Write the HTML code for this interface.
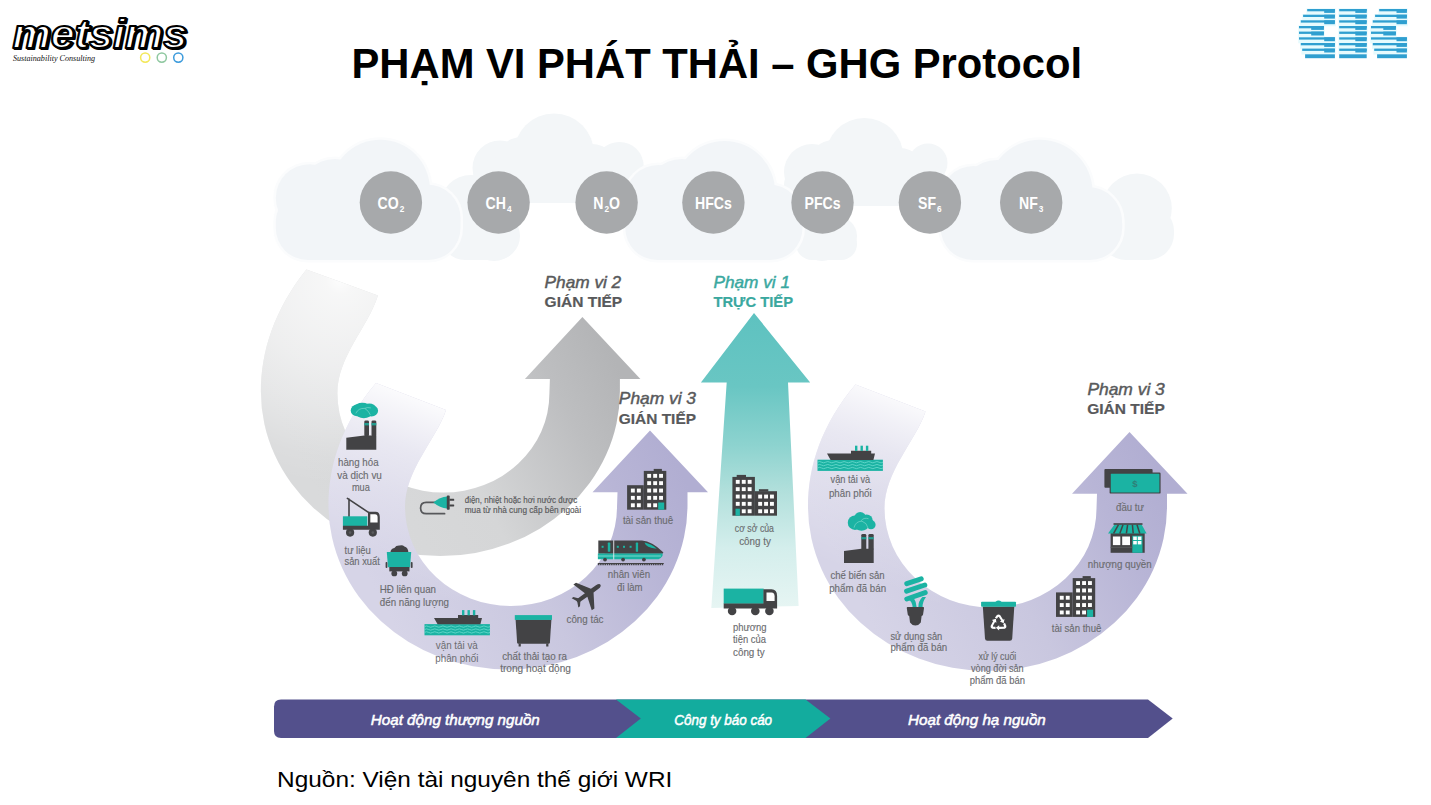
<!DOCTYPE html>
<html><head><meta charset="utf-8"><title>GHG Protocol</title>
<style>
html,body{margin:0;padding:0;background:#fff;}
body{width:1431px;height:805px;overflow:hidden;position:relative;font-family:"Liberation Sans",sans-serif;}
svg{position:absolute;left:0;top:0;}
svg text{font-family:"Liberation Sans",sans-serif;}
</style></head><body>
<svg width="1431" height="805" viewBox="0 0 1431 805">
<defs>
  <path id="arc" d="M687.5 492.3 L708 492.3 L650 430.5 L592.5 492.3 L617.5 492.3 L617 507 A106 99 0 0 1 511 606 A106 99 0 0 1 405 507 C405 470 436 440 446 410 L376 383 C342 423 328.5 465 328.5 505 A179.5 164.5 0 0 0 508 669.5 A179.5 164.5 0 0 0 687.5 505 Z"/>
  <path id="arcg" d="M687.5 492.3 L708 492.3 L650 430.5 L592.5 492.3 L617.5 492.3 L617 507 A106 99 0 0 1 511 606 A106 99 0 0 1 405 507 C405 470 436 440 445.5 409 L374 383 C342 423 328.5 465 328.5 505 A179.5 164.5 0 0 0 508 669.5 A179.5 164.5 0 0 0 687.5 505 Z"/>
  <clipPath id="clipL"><rect x="300" y="370" width="160.6" height="320"/></clipPath>
  <clipPath id="clipG"><rect x="300" y="370" width="270" height="320"/></clipPath>
  <clipPath id="clipR"><rect x="460" y="370" width="260" height="320"/></clipPath>
  <linearGradient id="gPurBody" gradientUnits="userSpaceOnUse" x1="380" y1="600" x2="670" y2="450">
    <stop offset="0" stop-color="#d6d4e7"/><stop offset="0.45" stop-color="#c9c7df"/><stop offset="0.8" stop-color="#b8b5d6"/><stop offset="1" stop-color="#b1aed2"/>
  </linearGradient>
  <linearGradient id="gGrayBody" gradientUnits="userSpaceOnUse" x1="380" y1="600" x2="670" y2="450">
    <stop offset="0" stop-color="#d9dadb"/><stop offset="0.45" stop-color="#d5d6d7"/><stop offset="0.8" stop-color="#bdbec0"/><stop offset="1" stop-color="#b3b4b6"/>
  </linearGradient>
  <linearGradient id="gFade" gradientUnits="userSpaceOnUse" x1="410" y1="395" x2="345" y2="560">
    <stop offset="0" stop-color="#fff" stop-opacity="0.93"/><stop offset="0.1" stop-color="#fff" stop-opacity="0.8"/><stop offset="0.3" stop-color="#fff" stop-opacity="0.55"/><stop offset="0.55" stop-color="#fff" stop-opacity="0.33"/><stop offset="1" stop-color="#fff" stop-opacity="0"/>
  </linearGradient>
  <linearGradient id="gFade2" gradientUnits="userSpaceOnUse" x1="410" y1="395" x2="345" y2="560">
    <stop offset="0" stop-color="#fff" stop-opacity="0.9"/><stop offset="0.12" stop-color="#fff" stop-opacity="0.74"/><stop offset="0.3" stop-color="#fff" stop-opacity="0.52"/><stop offset="0.55" stop-color="#fff" stop-opacity="0.3"/><stop offset="1" stop-color="#fff" stop-opacity="0"/>
  </linearGradient>
  <radialGradient id="gFadeG" gradientUnits="userSpaceOnUse" cx="408" cy="393" r="250">
    <stop offset="0" stop-color="#fff" stop-opacity="0.95"/><stop offset="0.06" stop-color="#fff" stop-opacity="0.8"/><stop offset="0.22" stop-color="#fff" stop-opacity="0.68"/><stop offset="0.35" stop-color="#fff" stop-opacity="0.57"/><stop offset="0.51" stop-color="#fff" stop-opacity="0.38"/><stop offset="0.71" stop-color="#fff" stop-opacity="0.09"/><stop offset="0.82" stop-color="#fff" stop-opacity="0"/>
  </radialGradient>
  <linearGradient id="gTeal" gradientUnits="userSpaceOnUse" x1="0" y1="313" x2="0" y2="607">
    <stop offset="0" stop-color="#5ec2c0"/><stop offset="0.25" stop-color="#69c6c3"/><stop offset="0.45" stop-color="#8dd3cf"/><stop offset="0.6" stop-color="#b0dfdb"/><stop offset="0.8" stop-color="#d4eeec"/><stop offset="1" stop-color="#e6f5f3"/>
  </linearGradient>
</defs>

<g id="clouds" fill="#f1f3f5">
<circle cx="500" cy="168" r="27.5" fill="#f3f6f8"/>
<circle cx="522" cy="164" r="27" fill="#f3f6f8"/>
<circle cx="554" cy="153.5" r="40" fill="#f3f6f8"/>
<circle cx="592" cy="170" r="26" fill="#f3f6f8"/>
<circle cx="619.4" cy="166.2" r="24.3" fill="#f3f6f8"/>
<rect x="472.7" y="160" width="171" height="43" rx="20" fill="#f3f6f8"/>
<circle cx="812" cy="172" r="28" fill="#f3f6f8"/>
<circle cx="834" cy="167" r="27" fill="#f3f6f8"/>
<circle cx="864.4" cy="157" r="39" fill="#f3f6f8"/>
<circle cx="900" cy="173" r="25" fill="#f3f6f8"/>
<circle cx="928" cy="163" r="19.5" fill="#f3f6f8"/>
<rect x="784" y="165" width="164" height="41" rx="20" fill="#f3f6f8"/>
<circle cx="471" cy="206" r="31" fill="#f3f6f8"/>
<circle cx="494" cy="236" r="25" fill="#f3f6f8"/>
<rect x="441" y="212" width="79" height="48" rx="24" fill="#f3f6f8"/>
<circle cx="822" cy="239" r="22" fill="#f3f6f8"/>
<rect x="796" y="228" width="61" height="32" rx="16" fill="#f3f6f8"/>
<circle cx="838" cy="236" r="19" fill="#f3f6f8"/>
<circle cx="1137" cy="208.4" r="34.8" fill="#f3f6f8"/>
<rect x="1100" y="205" width="74" height="55" rx="26" fill="#f3f6f8"/>
<circle cx="309.6" cy="198" r="33.8" fill="#fbfcfd" stroke="#fbfcfd" stroke-width="5"/>
<circle cx="335" cy="196" r="37" fill="#fbfcfd" stroke="#fbfcfd" stroke-width="5"/>
<circle cx="380.3" cy="189.4" r="49.6" fill="#fbfcfd" stroke="#fbfcfd" stroke-width="5"/>
<circle cx="427" cy="218" r="33.5" fill="#fbfcfd" stroke="#fbfcfd" stroke-width="5"/>
<rect x="275.8" y="190" width="184.7" height="70" rx="32" fill="#fbfcfd" stroke="#fbfcfd" stroke-width="5"/>
<circle cx="309.6" cy="198" r="33.8" fill="#f2f5f8"/>
<circle cx="335" cy="196" r="37" fill="#f2f5f8"/>
<circle cx="380.3" cy="189.4" r="49.6" fill="#f2f5f8"/>
<circle cx="427" cy="218" r="33.5" fill="#f2f5f8"/>
<rect x="275.8" y="190" width="184.7" height="70" rx="32" fill="#f2f5f8"/>
<circle cx="658.3" cy="198" r="33" fill="#fbfcfd" stroke="#fbfcfd" stroke-width="5"/>
<circle cx="682" cy="196" r="37" fill="#fbfcfd" stroke="#fbfcfd" stroke-width="5"/>
<circle cx="724.5" cy="191.5" r="50.5" fill="#fbfcfd" stroke="#fbfcfd" stroke-width="5"/>
<circle cx="769" cy="218" r="33.5" fill="#fbfcfd" stroke="#fbfcfd" stroke-width="5"/>
<rect x="625.3" y="190" width="177.2" height="70" rx="32" fill="#fbfcfd" stroke="#fbfcfd" stroke-width="5"/>
<circle cx="658.3" cy="198" r="33" fill="#f2f5f8"/>
<circle cx="682" cy="196" r="37" fill="#f2f5f8"/>
<circle cx="724.5" cy="191.5" r="50.5" fill="#f2f5f8"/>
<circle cx="769" cy="218" r="33.5" fill="#f2f5f8"/>
<rect x="625.3" y="190" width="177.2" height="70" rx="32" fill="#f2f5f8"/>
<circle cx="973.5" cy="199" r="33" fill="#fbfcfd" stroke="#fbfcfd" stroke-width="5"/>
<circle cx="997" cy="197" r="37" fill="#fbfcfd" stroke="#fbfcfd" stroke-width="5"/>
<circle cx="1039.9" cy="192.6" r="52.8" fill="#fbfcfd" stroke="#fbfcfd" stroke-width="5"/>
<circle cx="1088" cy="221" r="34" fill="#fbfcfd" stroke="#fbfcfd" stroke-width="5"/>
<rect x="940.7" y="192" width="181.5" height="68" rx="32" fill="#fbfcfd" stroke="#fbfcfd" stroke-width="5"/>
<circle cx="973.5" cy="199" r="33" fill="#f2f5f8"/>
<circle cx="997" cy="197" r="37" fill="#f2f5f8"/>
<circle cx="1039.9" cy="192.6" r="52.8" fill="#f2f5f8"/>
<circle cx="1088" cy="221" r="34" fill="#f2f5f8"/>
<rect x="940.7" y="192" width="181.5" height="68" rx="32" fill="#f2f5f8"/>
</g>
<g id="gases">
<circle cx="390.9" cy="202.5" r="31.2" fill="#a7a9ab"/>
<text transform="translate(390.9 208.8) scale(0.86 1)" font-size="16.4" font-weight="bold" fill="#fff" text-anchor="middle">CO<tspan font-size="9.6" dy="3.4" dx="1.2">2</tspan></text>
<circle cx="498.6" cy="202.5" r="31.2" fill="#a7a9ab"/>
<text transform="translate(498.6 208.8) scale(0.86 1)" font-size="16.4" font-weight="bold" fill="#fff" text-anchor="middle">CH<tspan font-size="9.6" dy="3.4" dx="1.2">4</tspan></text>
<circle cx="606.6" cy="202.5" r="31.2" fill="#a7a9ab"/>
<text transform="translate(606.6 208.8) scale(0.86 1)" font-size="16.4" font-weight="bold" fill="#fff" text-anchor="middle">N<tspan font-size="9.6" dy="3.4" dx="1.2">2</tspan><tspan dy="-3.4">O</tspan></text>
<circle cx="713.4" cy="202.5" r="31.2" fill="#a7a9ab"/>
<text transform="translate(713.4 208.8) scale(0.86 1)" font-size="16.4" font-weight="bold" fill="#fff" text-anchor="middle">HFCs</text>
<circle cx="822.5" cy="202.5" r="31.2" fill="#a7a9ab"/>
<text transform="translate(822.5 208.8) scale(0.86 1)" font-size="16.4" font-weight="bold" fill="#fff" text-anchor="middle">PFCs</text>
<circle cx="929.9" cy="202.5" r="31.2" fill="#a7a9ab"/>
<text transform="translate(929.9 208.8) scale(0.86 1)" font-size="16.4" font-weight="bold" fill="#fff" text-anchor="middle">SF<tspan font-size="9.6" dy="3.4" dx="1.2">6</tspan></text>
<circle cx="1031.2" cy="202.5" r="31.2" fill="#a7a9ab"/>
<text transform="translate(1031.2 208.8) scale(0.86 1)" font-size="16.4" font-weight="bold" fill="#fff" text-anchor="middle">NF<tspan font-size="9.6" dy="3.4" dx="1.2">3</tspan></text>
</g>
<g transform="translate(-67.6 -113.4)"><use href="#arcg" fill="url(#gGrayBody)"/><use href="#arcg" fill="url(#gFadeG)" clip-path="url(#clipG)"/></g>
<g transform="translate(0 0)"><use href="#arc" fill="url(#gPurBody)"/><use href="#arc" fill="url(#gFade)" clip-path="url(#clipL)"/></g>
<g transform="translate(479.5 1.5)"><use href="#arc" fill="url(#gPurBody)"/><use href="#arc" fill="url(#gFade2)" clip-path="url(#clipL)"/></g>
<path d="M754 313 L810.2 382.4 L788 382.4 L798.6 606 L711.3 608 L726.7 382.4 L700.9 382.4 Z" fill="url(#gTeal)"/>
<path d="M281 699.5 H1148 L1172.7 718.5 L1148 738 H281 Q274 738 274 731 V706.5 Q274 699.5 281 699.5 Z" fill="#53508c"/>
<path d="M616 699.5 H805.5 L830.4 718.5 L805.5 738 H616 L640.8 718.5 Z" fill="#13ac9e"/>
<g font-style="italic" fill="#fff" stroke="#fff" stroke-width="0.5" font-size="14.3"><text x="370.8" y="725" textLength="169" lengthAdjust="spacingAndGlyphs">Hoạt động thượng nguồn</text><text x="674.3" y="725" textLength="97.8" lengthAdjust="spacingAndGlyphs">Công ty báo cáo</text><text x="908" y="725" textLength="137.8" lengthAdjust="spacingAndGlyphs">Hoạt động hạ nguồn</text></g>
<g transform="translate(346.3 435.4)"><path d="M0 2.4 L18 0 H30 V14.4 H0 Z" fill="#434345"/><rect x="18" y="-15" width="4.7" height="16" rx="1.4" fill="#434345"/><rect x="25.2" y="-15" width="4.8" height="16" rx="1.4" fill="#434345"/><rect x="18" y="-12.4" width="4.7" height="2.4" fill="#1bb3a3" opacity="0.8"/><rect x="25.2" y="-12.4" width="4.8" height="2.4" fill="#1bb3a3" opacity="0.8"/><g fill="#1bb3a3"><ellipse cx="10.8" cy="-25" rx="6.4" ry="5.8"/><ellipse cx="16" cy="-28" rx="8" ry="4.6"/><ellipse cx="25.2" cy="-24.6" rx="6.6" ry="5.6"/><ellipse cx="17.5" cy="-21.8" rx="8" ry="4.6"/><ellipse cx="23" cy="-27.8" rx="6.4" ry="4.2"/></g><path d="M9.5 -22 Q12 -27.5 18.5 -27 Q22.5 -24.5 24 -20.5" fill="none" stroke="#8adbd2" stroke-width="0.6"/><path d="M18.5 -27 Q21 -28.5 24.5 -27.5" fill="none" stroke="#8adbd2" stroke-width="0.6"/></g>
<g><path d="M349 516.5 V499 M347.4 498.4 L368.8 512.6" stroke="#434345" stroke-width="1.6" fill="none" stroke-linecap="round"/><rect x="342.9" y="516.3" width="24.4" height="9.8" fill="#1bb3a3"/><path d="M368 511.8 H375.5 Q379.8 511.8 379.8 517 V529.7 H342.9 V525.8 H368 Z" fill="#434345"/><path d="M370.3 514.2 H375 Q377.6 514.2 377.6 517.5 V522.4 H370.3 Z" fill="#fdfdfd"/><circle cx="350.1" cy="532.6" r="4.1" fill="#434345"/><circle cx="372.8" cy="532.6" r="4.1" fill="#434345"/><circle cx="350.1" cy="532.6" r="1.3" fill="#5a5b5d"/><circle cx="372.8" cy="532.6" r="1.3" fill="#5a5b5d"/></g>
<g><path d="M390.4 552.6 Q390.6 548.6 394.4 548 Q396 545.4 399.6 545.6 Q402.4 544.4 404.4 546.6 Q408.2 547.4 408.4 552.6 Z" fill="#434345"/><path d="M386.8 552 H411.2 L410 567.2 H388 Z" fill="#1bb3a3"/><rect x="389.3" y="567" width="20.2" height="4.4" fill="#434345"/><rect x="385.6" y="562" width="1.8" height="6" rx="0.8" fill="#434345"/><rect x="410.8" y="562" width="1.8" height="6" rx="0.8" fill="#434345"/><circle cx="394.3" cy="573.4" r="2.9" fill="#434345"/><circle cx="404.7" cy="573.4" r="2.9" fill="#434345"/></g>
<g transform="translate(0 0)">
<rect x="424.5" y="624.1" width="65.4" height="11.2" fill="#1bb3a3"/>
<path d="M424.5 626.6 q2.05 -1.3 4.1 0 q2.05 1.3 4.1 0 q2.05 -1.3 4.1 0 q2.05 1.3 4.1 0 q2.05 -1.3 4.1 0 q2.05 1.3 4.1 0 q2.05 -1.3 4.1 0 q2.05 1.3 4.1 0 q2.05 -1.3 4.1 0 q2.05 1.3 4.1 0 q2.05 -1.3 4.1 0 q2.05 1.3 4.1 0 q2.05 -1.3 4.1 0 q2.05 1.3 4.1 0 q2.05 -1.3 4.1 0 q2.05 1.3 4.1 0" fill="none" stroke="#6fdccf" stroke-width="0.8"/>
<path d="M424.5 629.5 q2.05 -1.3 4.1 0 q2.05 1.3 4.1 0 q2.05 -1.3 4.1 0 q2.05 1.3 4.1 0 q2.05 -1.3 4.1 0 q2.05 1.3 4.1 0 q2.05 -1.3 4.1 0 q2.05 1.3 4.1 0 q2.05 -1.3 4.1 0 q2.05 1.3 4.1 0 q2.05 -1.3 4.1 0 q2.05 1.3 4.1 0 q2.05 -1.3 4.1 0 q2.05 1.3 4.1 0 q2.05 -1.3 4.1 0 q2.05 1.3 4.1 0" fill="none" stroke="#6fdccf" stroke-width="0.8"/>
<path d="M424.5 632.4 q2.05 -1.3 4.1 0 q2.05 1.3 4.1 0 q2.05 -1.3 4.1 0 q2.05 1.3 4.1 0 q2.05 -1.3 4.1 0 q2.05 1.3 4.1 0 q2.05 -1.3 4.1 0 q2.05 1.3 4.1 0 q2.05 -1.3 4.1 0 q2.05 1.3 4.1 0 q2.05 -1.3 4.1 0 q2.05 1.3 4.1 0 q2.05 -1.3 4.1 0 q2.05 1.3 4.1 0 q2.05 -1.3 4.1 0 q2.05 1.3 4.1 0" fill="none" stroke="#6fdccf" stroke-width="0.8"/>
<path d="M434 617.9 H458 V615.1 H478.2 V617.9 H482 L480.4 624.3 H437.6 Z" fill="#434345"/>
<rect x="462" y="610.1" width="2.4" height="5.2" fill="#1bb3a3"/>
<rect x="467.5" y="610.1" width="2.4" height="5.2" fill="#1bb3a3"/>
<rect x="472.9" y="610.1" width="2.4" height="5.2" fill="#1bb3a3"/>
</g>
<g transform="translate(393 -164.4)">
<rect x="424.5" y="624.1" width="65.4" height="11.2" fill="#1bb3a3"/>
<path d="M424.5 626.6 q2.05 -1.3 4.1 0 q2.05 1.3 4.1 0 q2.05 -1.3 4.1 0 q2.05 1.3 4.1 0 q2.05 -1.3 4.1 0 q2.05 1.3 4.1 0 q2.05 -1.3 4.1 0 q2.05 1.3 4.1 0 q2.05 -1.3 4.1 0 q2.05 1.3 4.1 0 q2.05 -1.3 4.1 0 q2.05 1.3 4.1 0 q2.05 -1.3 4.1 0 q2.05 1.3 4.1 0 q2.05 -1.3 4.1 0 q2.05 1.3 4.1 0" fill="none" stroke="#6fdccf" stroke-width="0.8"/>
<path d="M424.5 629.5 q2.05 -1.3 4.1 0 q2.05 1.3 4.1 0 q2.05 -1.3 4.1 0 q2.05 1.3 4.1 0 q2.05 -1.3 4.1 0 q2.05 1.3 4.1 0 q2.05 -1.3 4.1 0 q2.05 1.3 4.1 0 q2.05 -1.3 4.1 0 q2.05 1.3 4.1 0 q2.05 -1.3 4.1 0 q2.05 1.3 4.1 0 q2.05 -1.3 4.1 0 q2.05 1.3 4.1 0 q2.05 -1.3 4.1 0 q2.05 1.3 4.1 0" fill="none" stroke="#6fdccf" stroke-width="0.8"/>
<path d="M424.5 632.4 q2.05 -1.3 4.1 0 q2.05 1.3 4.1 0 q2.05 -1.3 4.1 0 q2.05 1.3 4.1 0 q2.05 -1.3 4.1 0 q2.05 1.3 4.1 0 q2.05 -1.3 4.1 0 q2.05 1.3 4.1 0 q2.05 -1.3 4.1 0 q2.05 1.3 4.1 0 q2.05 -1.3 4.1 0 q2.05 1.3 4.1 0 q2.05 -1.3 4.1 0 q2.05 1.3 4.1 0 q2.05 -1.3 4.1 0 q2.05 1.3 4.1 0" fill="none" stroke="#6fdccf" stroke-width="0.8"/>
<path d="M434 617.9 H458 V615.1 H478.2 V617.9 H482 L480.4 624.3 H437.6 Z" fill="#434345"/>
<rect x="462" y="610.1" width="2.4" height="5.2" fill="#1bb3a3"/>
<rect x="467.5" y="610.1" width="2.4" height="5.2" fill="#1bb3a3"/>
<rect x="472.9" y="610.1" width="2.4" height="5.2" fill="#1bb3a3"/>
</g>
<g><path d="M515.6 619.6 H551.4 L549.9 642.6 Q549.8 643.8 548.6 643.8 H518.4 Q517.2 643.8 517.1 642.6 Z" fill="#434345"/><rect x="514.8" y="615.1" width="37.2" height="4.8" fill="#1bb3a3"/><rect x="518.6" y="643.5" width="2.2" height="3" fill="#434345"/><rect x="546.2" y="643.5" width="2.2" height="3" fill="#434345"/></g>
<g transform="translate(588.3 593.4) rotate(-35.5) scale(0.88 1.02)"><path d="M-16 0 Q-16 -1.9 -13 -2 L-3 -2.1 L-8 -15.5 L-4.3 -15.5 L5.5 -2.2 L12.5 -2.2 Q17 -1.8 17 0 Q17 1.8 12.5 2.2 L5.5 2.2 L-4.3 15.5 L-8 15.5 L-3 2.1 L-13 2 Q-16 1.9 -16 0 Z" fill="#434345"/><path d="M-15.5 0 L-18.6 -5.6 L-16.2 -5.6 L-12 -1.2 L-12 1.2 L-16.2 5.6 L-18.6 5.6 Z" fill="#434345"/><rect x="-4.2" y="-9.6" width="4" height="1.6" rx="0.8" fill="#434345"/><rect x="-4.2" y="8" width="4" height="1.6" rx="0.8" fill="#434345"/></g>
<g><path d="M598.3 540.6 H642 Q652 541.5 663.2 552.2 Q663.8 553.6 661 553.8 H598.3 Z" fill="#434345"/><path d="M597.9 553.6 H662.5 Q663.6 557 658.5 559.2 H597.9 Z" fill="#1bb3a3"/><rect x="597.9" y="555.6" width="63" height="0.8" fill="#8fe0d6"/><rect x="613.3" y="540.2" width="0.9" height="19.4" fill="#e9e8f1"/><rect x="607.8" y="542.6" width="2.5" height="9.2" rx="0.6" fill="#1bb3a3"/><rect x="635.8" y="542.6" width="2.3" height="9.2" rx="0.6" fill="#1bb3a3"/><rect x="601.6" y="545.8" width="2" height="2" fill="#1bb3a3"/><rect x="616.8" y="545.8" width="2" height="2" fill="#1bb3a3"/><rect x="623" y="545.8" width="2" height="2" fill="#1bb3a3"/><rect x="629.6" y="545.8" width="2" height="2" fill="#1bb3a3"/><path d="M644.5 542.6 Q646 548.2 656.8 548.8 Q651.5 544 644.5 542.6 Z" fill="#1bb3a3"/><circle cx="605" cy="559.6" r="1.9" fill="#434345"/><circle cx="623.1" cy="559.6" r="1.9" fill="#434345"/><circle cx="643.9" cy="559.6" r="1.9" fill="#434345"/><path d="M597.9 564.2 H663.7" stroke="#434345" stroke-width="2.2" stroke-dasharray="1.5 0.7"/><rect x="597.9" y="563" width="65.8" height="1" fill="#434345"/></g>
<g>
<rect x="643.8" y="470.9" width="22.5" height="38.8" fill="#434345"/>
<rect x="627.1" y="485.2" width="16.7" height="24.5" fill="#434345"/>
<rect x="653.7" y="468.9" width="8.2" height="2.4" fill="#434345"/>
<rect x="647.2" y="473.9" width="3.9" height="3.9" fill="#fdfdfd"/>
<rect x="653.2" y="473.9" width="3.9" height="3.9" fill="#fdfdfd"/>
<rect x="659.1" y="473.9" width="3.9" height="3.9" fill="#fdfdfd"/>
<rect x="647.2" y="481.2" width="3.9" height="3.9" fill="#fdfdfd"/>
<rect x="653.2" y="481.2" width="3.9" height="3.9" fill="#fdfdfd"/>
<rect x="659.1" y="481.2" width="3.9" height="3.9" fill="#fdfdfd"/>
<rect x="647.2" y="488.6" width="3.9" height="3.9" fill="#fdfdfd"/>
<rect x="653.2" y="488.6" width="3.9" height="3.9" fill="#fdfdfd"/>
<rect x="659.1" y="488.6" width="3.9" height="3.9" fill="#fdfdfd"/>
<rect x="647.2" y="495.9" width="3.9" height="3.9" fill="#fdfdfd"/>
<rect x="653.2" y="495.9" width="3.9" height="3.9" fill="#fdfdfd"/>
<rect x="659.1" y="495.9" width="3.9" height="3.9" fill="#fdfdfd"/>
<rect x="647.2" y="503.3" width="3.9" height="3.9" fill="#fdfdfd"/>
<rect x="653.2" y="503.3" width="3.9" height="3.9" fill="#fdfdfd"/>
<rect x="658.2" y="502.5" width="6" height="7.2" fill="#1bb3a3"/>
<rect x="630.9" y="488.6" width="3.9" height="3.9" fill="#fdfdfd"/>
<rect x="636.9" y="488.6" width="3.9" height="3.9" fill="#fdfdfd"/>
<rect x="630.9" y="495.9" width="3.9" height="3.9" fill="#fdfdfd"/>
<rect x="636.9" y="495.9" width="3.9" height="3.9" fill="#fdfdfd"/>
<rect x="630.9" y="503.3" width="3.9" height="3.9" fill="#fdfdfd"/>
<rect x="636.9" y="503.3" width="3.9" height="3.9" fill="#fdfdfd"/>
</g>
<g>
<rect x="1072.7" y="578.1" width="22.5" height="38.8" fill="#434345"/>
<rect x="1056.0" y="592.4" width="16.7" height="24.5" fill="#434345"/>
<rect x="1082.6" y="576.1" width="8.2" height="2.4" fill="#434345"/>
<rect x="1076.1" y="581.1" width="3.9" height="3.9" fill="#fdfdfd"/>
<rect x="1082.1" y="581.1" width="3.9" height="3.9" fill="#fdfdfd"/>
<rect x="1088.0" y="581.1" width="3.9" height="3.9" fill="#fdfdfd"/>
<rect x="1076.1" y="588.5" width="3.9" height="3.9" fill="#fdfdfd"/>
<rect x="1082.1" y="588.5" width="3.9" height="3.9" fill="#fdfdfd"/>
<rect x="1088.0" y="588.5" width="3.9" height="3.9" fill="#fdfdfd"/>
<rect x="1076.1" y="595.8" width="3.9" height="3.9" fill="#fdfdfd"/>
<rect x="1082.1" y="595.8" width="3.9" height="3.9" fill="#fdfdfd"/>
<rect x="1088.0" y="595.8" width="3.9" height="3.9" fill="#fdfdfd"/>
<rect x="1076.1" y="603.1" width="3.9" height="3.9" fill="#fdfdfd"/>
<rect x="1082.1" y="603.1" width="3.9" height="3.9" fill="#fdfdfd"/>
<rect x="1088.0" y="603.1" width="3.9" height="3.9" fill="#fdfdfd"/>
<rect x="1076.1" y="610.5" width="3.9" height="3.9" fill="#fdfdfd"/>
<rect x="1082.1" y="610.5" width="3.9" height="3.9" fill="#fdfdfd"/>
<rect x="1087.1" y="609.7" width="6" height="7.2" fill="#1bb3a3"/>
<rect x="1059.8" y="595.8" width="3.9" height="3.9" fill="#fdfdfd"/>
<rect x="1065.8" y="595.8" width="3.9" height="3.9" fill="#fdfdfd"/>
<rect x="1059.8" y="603.1" width="3.9" height="3.9" fill="#fdfdfd"/>
<rect x="1065.8" y="603.1" width="3.9" height="3.9" fill="#fdfdfd"/>
<rect x="1059.8" y="610.5" width="3.9" height="3.9" fill="#fdfdfd"/>
<rect x="1065.8" y="610.5" width="3.9" height="3.9" fill="#fdfdfd"/>
</g>
<g>
<rect x="732.4" y="476.9" width="22.5" height="38.8" fill="#434345"/>
<rect x="754.9" y="491.2" width="22.1" height="24.5" fill="#434345"/>
<rect x="736.7" y="474.9" width="9.3" height="2.4" fill="#434345"/>
<rect x="758.9" y="489.2" width="9.4" height="2.4" fill="#434345"/>
<rect x="735.8" y="479.9" width="3.9" height="3.9" fill="#fdfdfd"/>
<rect x="741.8" y="479.9" width="3.9" height="3.9" fill="#fdfdfd"/>
<rect x="747.7" y="479.9" width="3.9" height="3.9" fill="#fdfdfd"/>
<rect x="735.8" y="487.2" width="3.9" height="3.9" fill="#fdfdfd"/>
<rect x="741.8" y="487.2" width="3.9" height="3.9" fill="#fdfdfd"/>
<rect x="747.7" y="487.2" width="3.9" height="3.9" fill="#fdfdfd"/>
<rect x="735.8" y="494.6" width="3.9" height="3.9" fill="#fdfdfd"/>
<rect x="741.8" y="494.6" width="3.9" height="3.9" fill="#fdfdfd"/>
<rect x="747.7" y="494.6" width="3.9" height="3.9" fill="#fdfdfd"/>
<rect x="735.8" y="501.9" width="3.9" height="3.9" fill="#fdfdfd"/>
<rect x="741.8" y="501.9" width="3.9" height="3.9" fill="#fdfdfd"/>
<rect x="747.7" y="501.9" width="3.9" height="3.9" fill="#fdfdfd"/>
<rect x="741.8" y="509.3" width="3.9" height="3.9" fill="#fdfdfd"/>
<rect x="747.7" y="509.3" width="3.9" height="3.9" fill="#fdfdfd"/>
<rect x="735.5" y="508.7" width="4.4" height="7" fill="#1bb3a3"/>
<rect x="758.2" y="494.6" width="3.9" height="3.9" fill="#fdfdfd"/>
<rect x="764.1" y="494.6" width="3.9" height="3.9" fill="#fdfdfd"/>
<rect x="770.0" y="494.6" width="3.9" height="3.9" fill="#fdfdfd"/>
<rect x="758.2" y="501.9" width="3.9" height="3.9" fill="#fdfdfd"/>
<rect x="764.1" y="501.9" width="3.9" height="3.9" fill="#fdfdfd"/>
<rect x="770.0" y="501.9" width="3.9" height="3.9" fill="#fdfdfd"/>
<rect x="758.2" y="509.3" width="3.9" height="3.9" fill="#fdfdfd"/>
<rect x="764.1" y="509.3" width="3.9" height="3.9" fill="#fdfdfd"/>
<rect x="770.0" y="509.3" width="3.9" height="3.9" fill="#fdfdfd"/>
</g>
<g><path d="M437 502.4 H426.2 Q420.6 502.4 420.6 508 Q420.6 513.7 426.2 513.7 H444.6" fill="none" stroke="#57585b" stroke-width="1.7" stroke-linecap="round"/><path d="M433.4 502.4 Q440 497 447.2 496.4 V508.6 Q440 508 433.4 502.4 Z" fill="#1bb3a3"/><rect x="446.8" y="495.6" width="2.9" height="14.2" rx="0.8" fill="#434345"/><rect x="449.4" y="498.8" width="4.8" height="2" rx="0.6" fill="#434345"/><rect x="449.4" y="504.4" width="4.8" height="2" rx="0.6" fill="#434345"/></g>
<g><rect x="723.7" y="588.6" width="40" height="15.2" fill="#1bb3a3"/><path d="M763.4 589.3 H771.5 Q777.1 589.3 777.1 596 V608.5 H723.7 V603.5 H763.4 Z" fill="#434345"/><path d="M766.5 592.4 H771.4 Q774.6 592.4 774.6 596.2 V601.1 H766.5 Z" fill="#fdfdfd"/><circle cx="732.1" cy="611" r="4.3" fill="#434345"/><circle cx="755.3" cy="611" r="4.3" fill="#434345"/><circle cx="769.4" cy="611" r="4.3" fill="#434345"/></g>
<g transform="translate(844 548.7)"><path d="M0 2.4 L17.3 0 H29.7 V14.4 H0 Z" fill="#434345"/><rect x="17.3" y="-14.8" width="5" height="16" rx="1.4" fill="#434345"/><rect x="24.4" y="-14.8" width="5.3" height="16" rx="1.4" fill="#434345"/><rect x="17.3" y="-11.6" width="5" height="2.2" fill="#1bb3a3" opacity="0.8"/><rect x="24.4" y="-11.6" width="5.3" height="2.2" fill="#1bb3a3" opacity="0.8"/><g fill="#1bb3a3"><circle cx="11" cy="-26" r="7.2"/><circle cx="16.2" cy="-30.8" r="6"/><circle cx="22.6" cy="-28" r="6.2"/><circle cx="27" cy="-24" r="4.6"/><ellipse cx="17.5" cy="-22.6" rx="7" ry="4.6"/></g><path d="M10 -21 Q11.5 -27.5 18 -27.5 Q23 -26 24 -20.5" fill="none" stroke="#86dad0" stroke-width="0.6"/><path d="M17 -27.8 Q19.5 -31.5 24.5 -30" fill="none" stroke="#86dad0" stroke-width="0.6"/></g>
<g><g stroke="#1bb3a3" stroke-width="5" stroke-linecap="round" fill="none"><path d="M906.8 583.6 L921.2 578.8"/><path d="M906.6 591.2 L924.8 585"/><path d="M906.8 599 L925.2 592.6"/></g><path d="M909 600 Q912 601.5 912.6 607 H916.6 Q916.4 602 914 598.5 Z" fill="#1bb3a3"/><path d="M918.4 607 Q918.2 601 922.5 597 L926 597 Q922.4 602 922.6 607 Z" fill="#1bb3a3"/><path d="M907.6 606.9 H923.2 Q924.2 606.9 924 608.2 L923 614.8 Q922.8 615.8 921.6 616 L920.8 622.4 Q918.5 625.6 915.4 625.6 Q912.3 625.6 910 622.4 L909.2 616 Q908 615.8 907.8 614.8 L906.8 608.2 Q906.6 606.9 907.6 606.9 Z" fill="#434345"/></g>
<g><path d="M982.8 606.5 H1014.3 L1012.2 638.6 Q1012 640.8 1009.8 640.8 H987.4 Q985.2 640.8 985 638.6 Z" fill="#434345"/><rect x="981.1" y="601.7" width="34.9" height="5" rx="0.8" fill="#1bb3a3"/><path d="M995.4 602 Q998.5 599.2 1001.6 602 Z" fill="#1bb3a3"/><g transform="translate(998.5 623.2)" fill="#fdfdfd"><path d="M-1.6 -8.2 Q0 -9.4 1.6 -8.2 L4.6 -3.4 L6 -4.2 L5.2 0 L1.4 -1.6 L2.8 -2.4 L0.6 -6 Q0 -6.8 -0.6 -6 L-1.6 -4.4 L-3.6 -5.4 Z"/><path d="M-1.6 -8.2 Q0 -9.4 1.6 -8.2 L4.6 -3.4 L6 -4.2 L5.2 0 L1.4 -1.6 L2.8 -2.4 L0.6 -6 Q0 -6.8 -0.6 -6 L-1.6 -4.4 L-3.6 -5.4 Z" transform="rotate(120)"/><path d="M-1.6 -8.2 Q0 -9.4 1.6 -8.2 L4.6 -3.4 L6 -4.2 L5.2 0 L1.4 -1.6 L2.8 -2.4 L0.6 -6 Q0 -6.8 -0.6 -6 L-1.6 -4.4 L-3.6 -5.4 Z" transform="rotate(240)"/></g></g>
<g><rect x="1110.6" y="532" width="34.1" height="20.8" fill="#434345"/><path d="M1114.5 524.6 H1141.6 L1146.6 533.6 H1108 Z" fill="#1bb3a3"/><rect x="1113.5" y="523.2" width="29" height="1.6" fill="#434345"/>
<path d="M1118.4 524.8 L1113.6 533.4" stroke="#434345" stroke-width="1.5"/>
<path d="M1123.0 524.8 L1119.8 533.4" stroke="#434345" stroke-width="1.5"/>
<path d="M1127.6 524.8 L1126.4 533.4" stroke="#434345" stroke-width="1.5"/>
<path d="M1132.4 524.8 L1133.2 533.4" stroke="#434345" stroke-width="1.5"/>
<path d="M1137.0 524.8 L1139.8 533.4" stroke="#434345" stroke-width="1.5"/>
<rect x="1112.9" y="536.5" width="7.4" height="8.6" fill="#fdfdfd"/><rect x="1122.2" y="536.5" width="7.8" height="8.6" fill="#fdfdfd"/><rect x="1132.3" y="535.7" width="10.2" height="17.1" fill="#1bb3a3"/><rect x="1133.2" y="536.6" width="3.6" height="3.4" fill="#fdfdfd"/><rect x="1137.8" y="536.6" width="3.6" height="3.4" fill="#fdfdfd"/><rect x="1133.2" y="541" width="3.6" height="3.4" fill="#fdfdfd"/><rect x="1137.8" y="541" width="3.6" height="3.4" fill="#fdfdfd"/><rect x="1110.6" y="546.8" width="21.7" height="1" fill="#5a5b5d"/></g>
<g><rect x="1104.4" y="469" width="48.2" height="18.8" rx="1" fill="#434345"/><rect x="1109.6" y="472.6" width="51" height="21" rx="1.2" fill="#434345"/><rect x="1110.8" y="473.8" width="48.6" height="18.6" rx="0.6" fill="#1bb3a3"/><text x="1134.8" y="486.6" font-size="9.5" font-weight="bold" fill="#2f7f77" text-anchor="middle">$</text></g>
<text x="338.0" y="466.0" font-size="10.8" fill="#6b6c6f" stroke="#6b6c6f" stroke-width="0.15" font-weight="normal" font-style="normal" textLength="40.6" lengthAdjust="spacingAndGlyphs">hàng hóa</text>
<text x="337.2" y="479.1" font-size="10.8" fill="#6b6c6f" stroke="#6b6c6f" stroke-width="0.15" font-weight="normal" font-style="normal" textLength="44.7" lengthAdjust="spacingAndGlyphs">và dịch vụ</text>
<text x="351.9" y="490.8" font-size="10.8" fill="#6b6c6f" stroke="#6b6c6f" stroke-width="0.15" font-weight="normal" font-style="normal" textLength="17.9" lengthAdjust="spacingAndGlyphs">mua</text>
<text x="344.5" y="553.7" font-size="10.8" fill="#6b6c6f" stroke="#6b6c6f" stroke-width="0.15" font-weight="normal" font-style="normal" textLength="26.3" lengthAdjust="spacingAndGlyphs">tư liệu</text>
<text x="344.5" y="564.9" font-size="10.8" fill="#6b6c6f" stroke="#6b6c6f" stroke-width="0.15" font-weight="normal" font-style="normal" textLength="35.3" lengthAdjust="spacingAndGlyphs">sản xuất</text>
<text x="379.8" y="592.5" font-size="10.8" fill="#6b6c6f" stroke="#6b6c6f" stroke-width="0.15" font-weight="normal" font-style="normal" textLength="56.2" lengthAdjust="spacingAndGlyphs">HĐ liên quan</text>
<text x="379.8" y="605.6" font-size="10.8" fill="#6b6c6f" stroke="#6b6c6f" stroke-width="0.15" font-weight="normal" font-style="normal" textLength="69.2" lengthAdjust="spacingAndGlyphs">đến năng lượng</text>
<text transform="translate(456.8 648.7) scale(0.91 1)" font-size="10.8" fill="#6b6c6f" text-anchor="middle" font-weight="normal" font-style="normal">vận tải và</text>
<text transform="translate(456.8 661.5) scale(0.91 1)" font-size="10.8" fill="#6b6c6f" text-anchor="middle" font-weight="normal" font-style="normal">phân phối</text>
<text x="502.2" y="660.4" font-size="10.8" fill="#6b6c6f" stroke="#6b6c6f" stroke-width="0.15" font-weight="normal" font-style="normal" textLength="64.9" lengthAdjust="spacingAndGlyphs">chất thải tạo ra</text>
<text x="500.2" y="672.1" font-size="10.8" fill="#6b6c6f" stroke="#6b6c6f" stroke-width="0.15" font-weight="normal" font-style="normal" textLength="70.8" lengthAdjust="spacingAndGlyphs">trong hoạt động</text>
<text x="566.5" y="622.5" font-size="10.8" fill="#6b6c6f" stroke="#6b6c6f" stroke-width="0.15" font-weight="normal" font-style="normal" textLength="37" lengthAdjust="spacingAndGlyphs">công tác</text>
<text x="607.8" y="577.8" font-size="10.8" fill="#6b6c6f" stroke="#6b6c6f" stroke-width="0.15" font-weight="normal" font-style="normal" textLength="42.3" lengthAdjust="spacingAndGlyphs">nhân viên</text>
<text x="617.1" y="590.9" font-size="10.8" fill="#6b6c6f" stroke="#6b6c6f" stroke-width="0.15" font-weight="normal" font-style="normal" textLength="25.5" lengthAdjust="spacingAndGlyphs">đi làm</text>
<text x="622.9" y="523.6" font-size="10.8" fill="#6b6c6f" stroke="#6b6c6f" stroke-width="0.15" font-weight="normal" font-style="normal" textLength="50.2" lengthAdjust="spacingAndGlyphs">tài sản thuê</text>
<text x="464.7" y="503.0" font-size="8.6" fill="#58595b" stroke="#58595b" stroke-width="0.15" font-weight="normal" font-style="normal" textLength="112.6" lengthAdjust="spacingAndGlyphs">điện, nhiệt hoặc hơi nước được</text>
<text x="464.7" y="513.3" font-size="8.6" fill="#58595b" stroke="#58595b" stroke-width="0.15" font-weight="normal" font-style="normal" textLength="116.3" lengthAdjust="spacingAndGlyphs">mua từ nhà cung cấp bên ngoài</text>
<text x="734.8" y="532.0" font-size="10.8" fill="#6b6c6f" stroke="#6b6c6f" stroke-width="0.15" font-weight="normal" font-style="normal" textLength="39.2" lengthAdjust="spacingAndGlyphs">cơ sở của</text>
<text x="739.2" y="545.1" font-size="10.8" fill="#6b6c6f" stroke="#6b6c6f" stroke-width="0.15" font-weight="normal" font-style="normal" textLength="31.7" lengthAdjust="spacingAndGlyphs">công ty</text>
<text x="733.0" y="630.9" font-size="10.8" fill="#6b6c6f" stroke="#6b6c6f" stroke-width="0.15" font-weight="normal" font-style="normal" textLength="33.5" lengthAdjust="spacingAndGlyphs">phương</text>
<text x="733.0" y="643.3" font-size="10.8" fill="#6b6c6f" stroke="#6b6c6f" stroke-width="0.15" font-weight="normal" font-style="normal" textLength="32.9" lengthAdjust="spacingAndGlyphs">tiện của</text>
<text x="733.0" y="655.7" font-size="10.8" fill="#6b6c6f" stroke="#6b6c6f" stroke-width="0.15" font-weight="normal" font-style="normal" textLength="31.7" lengthAdjust="spacingAndGlyphs">công ty</text>
<text x="830.5" y="483.4" font-size="10.8" fill="#6b6c6f" stroke="#6b6c6f" stroke-width="0.15" font-weight="normal" font-style="normal" textLength="39.7" lengthAdjust="spacingAndGlyphs">vận tải và</text>
<text x="828.9" y="496.5" font-size="10.8" fill="#6b6c6f" stroke="#6b6c6f" stroke-width="0.15" font-weight="normal" font-style="normal" textLength="42.8" lengthAdjust="spacingAndGlyphs">phân phối</text>
<text x="830.4" y="579.3" font-size="10.8" fill="#6b6c6f" stroke="#6b6c6f" stroke-width="0.15" font-weight="normal" font-style="normal" textLength="54.3" lengthAdjust="spacingAndGlyphs">chế biến sản</text>
<text x="829.2" y="592.3" font-size="10.8" fill="#6b6c6f" stroke="#6b6c6f" stroke-width="0.15" font-weight="normal" font-style="normal" textLength="56.9" lengthAdjust="spacingAndGlyphs">phẩm đã bán</text>
<text x="890.4" y="639.6" font-size="10.8" fill="#6b6c6f" stroke="#6b6c6f" stroke-width="0.15" font-weight="normal" font-style="normal" textLength="51.9" lengthAdjust="spacingAndGlyphs">sử dụng sản</text>
<text x="890.4" y="651.1" font-size="10.8" fill="#6b6c6f" stroke="#6b6c6f" stroke-width="0.15" font-weight="normal" font-style="normal" textLength="56.9" lengthAdjust="spacingAndGlyphs">phẩm đã bán</text>
<text x="978.5" y="659.8" font-size="10.8" fill="#6b6c6f" stroke="#6b6c6f" stroke-width="0.15" font-weight="normal" font-style="normal" textLength="37.8" lengthAdjust="spacingAndGlyphs">xử lý cuối</text>
<text x="971.0" y="671.5" font-size="10.8" fill="#6b6c6f" stroke="#6b6c6f" stroke-width="0.15" font-weight="normal" font-style="normal" textLength="52.7" lengthAdjust="spacingAndGlyphs">vòng đời sản</text>
<text x="969.7" y="684.2" font-size="10.8" fill="#6b6c6f" stroke="#6b6c6f" stroke-width="0.15" font-weight="normal" font-style="normal" textLength="55.3" lengthAdjust="spacingAndGlyphs">phẩm đã bán</text>
<text x="1051.8" y="632.4" font-size="10.8" fill="#6b6c6f" stroke="#6b6c6f" stroke-width="0.15" font-weight="normal" font-style="normal" textLength="49.5" lengthAdjust="spacingAndGlyphs">tài sản thuê</text>
<text x="1087.8" y="567.5" font-size="10.8" fill="#6b6c6f" stroke="#6b6c6f" stroke-width="0.15" font-weight="normal" font-style="normal" textLength="63.9" lengthAdjust="spacingAndGlyphs">nhượng quyền</text>
<text x="1116.0" y="510.6" font-size="10.8" fill="#6b6c6f" stroke="#6b6c6f" stroke-width="0.15" font-weight="normal" font-style="normal" textLength="28" lengthAdjust="spacingAndGlyphs">đầu tư</text>
<text x="544.6" y="287.9" font-size="16.6" fill="#58595b" stroke="#58595b" stroke-width="0.45" font-weight="normal" font-style="italic" textLength="76.6" lengthAdjust="spacingAndGlyphs">Phạm vi 2</text>
<text x="544.6" y="307.0" font-size="14.8" fill="#58595b" stroke="#58595b" stroke-width="0.2" font-weight="bold" font-style="normal" textLength="77.6" lengthAdjust="spacingAndGlyphs">GIÁN TIẾP</text>
<text x="713.4" y="287.9" font-size="16.6" fill="#3aa89f" stroke="#3aa89f" stroke-width="0.45" font-weight="normal" font-style="italic" textLength="76.6" lengthAdjust="spacingAndGlyphs">Phạm vi 1</text>
<text x="713.4" y="307.0" font-size="14.8" fill="#3aa89f" stroke="#3aa89f" stroke-width="0.2" font-weight="bold" font-style="normal" textLength="79.7" lengthAdjust="spacingAndGlyphs">TRỰC TIẾP</text>
<text x="618.8" y="404.0" font-size="16.6" fill="#58595b" stroke="#58595b" stroke-width="0.45" font-weight="normal" font-style="italic" textLength="77.2" lengthAdjust="spacingAndGlyphs">Phạm vi 3</text>
<text x="618.8" y="424.2" font-size="14.8" fill="#58595b" stroke="#58595b" stroke-width="0.2" font-weight="bold" font-style="normal" textLength="77.2" lengthAdjust="spacingAndGlyphs">GIÁN TIẾP</text>
<text x="1087.4" y="395.0" font-size="16.6" fill="#58595b" stroke="#58595b" stroke-width="0.45" font-weight="normal" font-style="italic" textLength="77.4" lengthAdjust="spacingAndGlyphs">Phạm vi 3</text>
<text x="1087.2" y="413.6" font-size="14.8" fill="#58595b" stroke="#58595b" stroke-width="0.2" font-weight="bold" font-style="normal" textLength="77.6" lengthAdjust="spacingAndGlyphs">GIÁN TIẾP</text>
<g id="cic"><rect x="1306.4" y="8.4" width="29.3" height="6.6" fill="#e6fbfe"/>
<rect x="1302.3" y="14.1" width="33.4" height="6.6" fill="#e6fbfe"/>
<rect x="1300.0" y="19.7" width="35.7" height="6.6" fill="#e6fbfe"/>
<rect x="1298.2" y="25.4" width="26.5" height="6.6" fill="#e6fbfe"/>
<rect x="1298.2" y="31.0" width="26.5" height="6.6" fill="#e6fbfe"/>
<rect x="1298.2" y="36.7" width="37.5" height="6.6" fill="#e6fbfe"/>
<rect x="1300.0" y="42.4" width="35.7" height="6.6" fill="#e6fbfe"/>
<rect x="1301.4" y="48.0" width="34.3" height="6.6" fill="#e6fbfe"/>
<rect x="1338.4" y="8.4" width="29.1" height="6.6" fill="#e6fbfe"/>
<rect x="1338.4" y="14.1" width="29.1" height="6.6" fill="#e6fbfe"/>
<rect x="1338.4" y="19.7" width="29.1" height="6.6" fill="#e6fbfe"/>
<rect x="1338.4" y="25.4" width="29.1" height="6.6" fill="#e6fbfe"/>
<rect x="1338.4" y="31.0" width="29.1" height="6.6" fill="#e6fbfe"/>
<rect x="1338.4" y="36.7" width="29.1" height="6.6" fill="#e6fbfe"/>
<rect x="1338.4" y="42.4" width="29.1" height="6.6" fill="#e6fbfe"/>
<rect x="1338.4" y="48.0" width="29.1" height="6.6" fill="#e6fbfe"/>
<rect x="1378.4" y="8.4" width="29.3" height="6.6" fill="#e6fbfe"/>
<rect x="1374.3" y="14.1" width="33.4" height="6.6" fill="#e6fbfe"/>
<rect x="1372.0" y="19.7" width="35.7" height="6.6" fill="#e6fbfe"/>
<rect x="1370.2" y="25.4" width="26.5" height="6.6" fill="#e6fbfe"/>
<rect x="1370.2" y="31.0" width="26.5" height="6.6" fill="#e6fbfe"/>
<rect x="1370.2" y="36.7" width="37.5" height="6.6" fill="#e6fbfe"/>
<rect x="1372.0" y="42.4" width="35.7" height="6.6" fill="#e6fbfe"/>
<rect x="1373.4" y="48.0" width="34.3" height="6.6" fill="#e6fbfe"/>
<rect x="1307.2" y="9.0" width="27.7" height="2.3" fill="#2f9fd0"/>
<rect x="1324.2" y="9.0" width="10.7" height="3.9" fill="#2f9fd0"/>
<rect x="1303.1" y="14.7" width="31.8" height="2.3" fill="#2f9fd0"/>
<rect x="1324.2" y="14.7" width="10.7" height="3.9" fill="#2f9fd0"/>
<rect x="1300.8" y="20.3" width="34.1" height="2.3" fill="#2f9fd0"/>
<rect x="1324.2" y="20.3" width="10.7" height="3.9" fill="#2f9fd0"/>
<rect x="1299.0" y="26.0" width="24.9" height="2.3" fill="#2f9fd0"/>
<rect x="1311.2" y="26.0" width="12.7" height="3.9" fill="#2f9fd0"/>
<rect x="1299.0" y="31.6" width="24.9" height="2.3" fill="#2f9fd0"/>
<rect x="1311.2" y="31.6" width="12.7" height="3.9" fill="#2f9fd0"/>
<rect x="1299.0" y="37.3" width="35.9" height="2.3" fill="#2f9fd0"/>
<rect x="1324.2" y="37.3" width="10.7" height="3.9" fill="#2f9fd0"/>
<rect x="1300.8" y="43.0" width="34.1" height="2.3" fill="#2f9fd0"/>
<rect x="1324.2" y="43.0" width="10.7" height="3.9" fill="#2f9fd0"/>
<rect x="1302.2" y="48.6" width="32.7" height="2.3" fill="#2f9fd0"/>
<rect x="1324.2" y="48.6" width="10.7" height="3.9" fill="#2f9fd0"/>
<rect x="1305.1" y="54.3" width="29.8" height="3.9" fill="#2f9fd0"/>
<rect x="1339.2" y="9.0" width="27.5" height="2.3" fill="#2f9fd0"/>
<rect x="1355.3" y="9.0" width="11.4" height="3.9" fill="#2f9fd0"/>
<rect x="1339.2" y="14.7" width="27.5" height="2.3" fill="#2f9fd0"/>
<rect x="1355.3" y="14.7" width="11.4" height="3.9" fill="#2f9fd0"/>
<rect x="1339.2" y="20.3" width="27.5" height="2.3" fill="#2f9fd0"/>
<rect x="1355.3" y="20.3" width="11.4" height="3.9" fill="#2f9fd0"/>
<rect x="1339.2" y="26.0" width="27.5" height="2.3" fill="#2f9fd0"/>
<rect x="1355.3" y="26.0" width="11.4" height="3.9" fill="#2f9fd0"/>
<rect x="1339.2" y="31.6" width="27.5" height="2.3" fill="#2f9fd0"/>
<rect x="1355.3" y="31.6" width="11.4" height="3.9" fill="#2f9fd0"/>
<rect x="1339.2" y="37.3" width="27.5" height="2.3" fill="#2f9fd0"/>
<rect x="1355.3" y="37.3" width="11.4" height="3.9" fill="#2f9fd0"/>
<rect x="1339.2" y="43.0" width="27.5" height="2.3" fill="#2f9fd0"/>
<rect x="1355.3" y="43.0" width="11.4" height="3.9" fill="#2f9fd0"/>
<rect x="1339.2" y="48.6" width="27.5" height="2.3" fill="#2f9fd0"/>
<rect x="1355.3" y="48.6" width="11.4" height="3.9" fill="#2f9fd0"/>
<rect x="1339.2" y="54.3" width="27.5" height="3.9" fill="#2f9fd0"/>
<rect x="1379.2" y="9.0" width="27.7" height="2.3" fill="#2f9fd0"/>
<rect x="1396.5" y="9.0" width="10.4" height="3.9" fill="#2f9fd0"/>
<rect x="1375.1" y="14.7" width="31.8" height="2.3" fill="#2f9fd0"/>
<rect x="1396.5" y="14.7" width="10.4" height="3.9" fill="#2f9fd0"/>
<rect x="1372.8" y="20.3" width="34.1" height="2.3" fill="#2f9fd0"/>
<rect x="1396.5" y="20.3" width="10.4" height="3.9" fill="#2f9fd0"/>
<rect x="1371.0" y="26.0" width="24.9" height="2.3" fill="#2f9fd0"/>
<rect x="1383.3" y="26.0" width="12.6" height="3.9" fill="#2f9fd0"/>
<rect x="1371.0" y="31.6" width="24.9" height="2.3" fill="#2f9fd0"/>
<rect x="1383.3" y="31.6" width="12.6" height="3.9" fill="#2f9fd0"/>
<rect x="1371.0" y="37.3" width="35.9" height="2.3" fill="#2f9fd0"/>
<rect x="1396.5" y="37.3" width="10.4" height="3.9" fill="#2f9fd0"/>
<rect x="1372.8" y="43.0" width="34.1" height="2.3" fill="#2f9fd0"/>
<rect x="1396.5" y="43.0" width="10.4" height="3.9" fill="#2f9fd0"/>
<rect x="1374.2" y="48.6" width="32.7" height="2.3" fill="#2f9fd0"/>
<rect x="1396.5" y="48.6" width="10.4" height="3.9" fill="#2f9fd0"/>
<rect x="1377.1" y="54.3" width="29.8" height="3.9" fill="#2f9fd0"/></g>
<g id="metsims">
<text x="12.6" y="48" font-size="41" font-weight="bold" font-style="italic" fill="#000" stroke="#000" stroke-width="2.2" stroke-linejoin="round" textLength="174.5" lengthAdjust="spacingAndGlyphs" transform="translate(1.3 1)">metsims</text>
<text x="12.6" y="48" font-size="41" font-weight="bold" font-style="italic" fill="#fff" stroke="#000" stroke-width="2.1" stroke-linejoin="round" textLength="174.5" lengthAdjust="spacingAndGlyphs">metsims</text>
<text x="13" y="60.6" font-size="8.6" font-style="italic" fill="#111" style="font-family:'Liberation Serif',serif" textLength="82" lengthAdjust="spacingAndGlyphs">Sustainability Consulting</text>
<circle cx="145.2" cy="57.6" r="4.6" fill="none" stroke="#f3e85a" stroke-width="1.5"/>
<circle cx="161.8" cy="57.6" r="4.6" fill="none" stroke="#8fc8a0" stroke-width="1.5"/>
<circle cx="178.3" cy="57.6" r="4.6" fill="none" stroke="#3c9bdc" stroke-width="1.5"/>
</g>

<text x="351.5" y="77.8" font-size="42" font-weight="bold" fill="#000" textLength="730.5" lengthAdjust="spacingAndGlyphs">PHẠM VI PHÁT THẢI – GHG Protocol</text>
<text x="277.1" y="787.4" font-size="21.7" fill="#000" textLength="395.2" lengthAdjust="spacingAndGlyphs">Nguồn: Viện tài nguyên thế giới WRI</text>
</svg></body></html>
